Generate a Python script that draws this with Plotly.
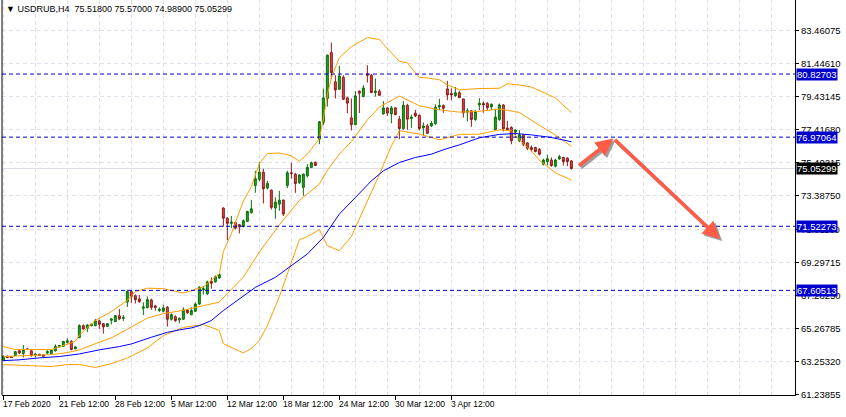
import plotly.graph_objects as go

# ---- H4 candles (bar index 0..142) ----
open_ = [63.34, 63.58, 63.54, 63.62, 63.91, 63.74, 64.03, 63.91, 63.66, 63.70,
         63.66, 63.78, 63.74, 63.91, 64.15, 64.19, 64.43, 64.48, 64.03, 64.72,
         65.45, 65.29, 65.45, 65.45, 65.74, 65.57, 65.41, 65.78, 65.70, 66.06,
         65.90, 66.88, 67.53, 67.28, 67.08, 66.51, 66.55, 67.02, 66.65, 66.37,
         66.33, 66.57, 65.84, 66.00, 65.80, 65.84, 66.41, 66.12, 66.33, 66.77,
         67.63, 67.39, 68.16, 68.12, 68.36, 72.64, 72.02, 71.70, 71.74, 71.62,
         71.50, 71.82, 72.35, 74.02, 74.39, 74.83, 73.86, 73.73, 72.64, 72.88,
         73.12, 74.02, 74.79, 74.71, 74.20, 73.90, 74.61, 75.12, 75.44, 76.85,
         77.87, 79.33, 82.14, 80.35, 79.90, 80.63, 79.37, 78.15, 77.74, 79.78,
         79.45, 80.84, 80.76, 79.70, 79.78, 78.39, 78.76, 78.39, 78.76, 78.07,
         77.50, 78.92, 78.11, 78.44, 78.31, 77.54, 77.66, 77.66, 77.80, 78.82,
         78.90, 79.92, 79.64, 79.51, 79.68, 79.31, 78.50, 78.58, 78.05, 78.94,
         79.03, 79.03, 78.82, 77.44, 78.05, 78.94, 77.52, 77.56, 77.28, 76.75,
         77.09, 76.62, 76.34, 76.34, 76.22, 75.32, 75.48, 75.57, 75.20, 75.65,
         75.73, 75.69, 75.518]
high = [63.62, 63.62, 63.56, 63.91, 63.95, 64.27, 64.05, 63.95, 63.78, 63.72,
        63.68, 63.95, 63.99, 64.31, 64.27, 64.52, 64.68, 64.56, 64.19, 65.53,
        65.53, 65.53, 65.57, 65.86, 65.82, 65.61, 65.61, 65.90, 66.10, 66.47,
        66.10, 67.65, 67.61, 67.36, 67.32, 66.88, 67.24, 67.10, 66.73, 66.57,
        66.73, 66.65, 66.20, 66.08, 65.96, 66.57, 66.45, 66.57, 66.86, 67.87,
        67.87, 68.20, 68.40, 68.52, 68.61, 72.68, 72.07, 72.15, 71.82, 71.66,
        71.94, 72.47, 73.12, 74.91, 75.44, 75.04, 74.30, 73.77, 73.29, 73.69,
        73.16, 74.91, 75.40, 74.79, 74.71, 74.75, 75.32, 75.48, 75.48, 77.95,
        79.94, 82.02, 82.75, 80.76, 81.33, 80.76, 79.45, 79.33, 79.78, 79.82,
        80.14, 81.37, 80.84, 80.55, 79.90, 79.17, 78.80, 78.88, 78.80, 78.27,
        79.17, 79.01, 78.35, 78.64, 78.35, 77.87, 77.78, 77.95, 78.98, 79.31,
        78.98, 80.41, 79.96, 80.04, 79.80, 79.31, 78.74, 78.62, 78.62, 79.35,
        79.15, 79.11, 79.03, 78.70, 79.03, 78.98, 77.97, 77.64, 77.44, 77.40,
        77.15, 76.66, 76.46, 76.38, 76.30, 75.65, 75.89, 75.73, 75.65, 75.89,
        75.77, 75.73, 75.570]
low = [63.29, 63.46, 63.48, 63.60, 63.70, 63.50, 63.97, 63.54, 63.50, 63.60,
       63.56, 63.70, 63.72, 63.86, 64.13, 64.17, 64.35, 63.95, 64.01, 64.68,
       65.21, 65.05, 65.41, 65.41, 65.25, 64.96, 65.37, 65.53, 65.66, 65.78,
       65.74, 66.59, 66.84, 66.80, 66.84, 66.10, 66.51, 66.41, 66.37, 66.29,
       66.25, 65.39, 65.76, 65.68, 65.59, 65.80, 66.16, 66.08, 66.29, 66.73,
       67.34, 67.34, 67.71, 68.08, 68.32, 71.50, 70.68, 71.41, 71.33, 71.09,
       71.46, 71.78, 72.31, 73.57, 74.26, 72.92, 73.77, 72.55, 71.98, 72.47,
       72.15, 73.86, 74.43, 73.57, 74.10, 73.39, 74.51, 75.08, 75.20, 76.54,
       77.70, 78.84, 80.51, 79.33, 79.86, 79.25, 78.44, 77.38, 77.70, 78.44,
       79.41, 80.31, 79.66, 79.45, 79.49, 78.35, 78.27, 77.82, 78.31, 76.85,
       77.42, 77.42, 77.54, 78.19, 77.38, 77.05, 77.17, 77.58, 77.72, 78.62,
       78.46, 79.23, 79.23, 79.43, 79.35, 78.17, 77.93, 77.60, 77.97, 78.62,
       78.46, 78.58, 78.62, 77.40, 77.97, 77.32, 77.36, 76.54, 76.95, 76.66,
       76.42, 76.18, 76.09, 76.05, 75.85, 75.24, 75.24, 75.16, 75.12, 75.57,
       75.24, 75.20, 74.989]
close = [63.58, 63.50, 63.50, 63.86, 63.78, 63.99, 63.99, 63.62, 63.70, 63.62,
         63.58, 63.86, 63.95, 64.19, 64.23, 64.48, 64.52, 63.99, 64.15, 65.45,
         65.25, 65.49, 65.53, 65.74, 65.53, 65.37, 65.57, 65.86, 66.06, 65.86,
         65.94, 67.53, 67.24, 67.04, 66.92, 66.59, 67.04, 66.57, 66.57, 66.45,
         66.53, 65.84, 66.12, 65.76, 65.88, 66.41, 66.25, 66.37, 66.77, 67.79,
         67.71, 68.12, 68.04, 68.44, 68.57, 72.02, 71.70, 71.78, 71.41, 71.50,
         71.86, 72.43, 72.59, 74.43, 74.83, 73.82, 74.14, 72.68, 73.00, 73.12,
         72.27, 74.79, 74.75, 74.14, 74.65, 74.71, 75.12, 75.40, 75.24, 77.91,
         79.37, 81.98, 80.92, 79.86, 80.71, 79.29, 79.05, 77.74, 79.49, 79.66,
         79.98, 80.76, 79.70, 79.78, 79.53, 78.76, 78.44, 78.76, 78.35, 77.50,
         78.92, 78.07, 78.19, 78.27, 77.50, 77.66, 77.21, 77.82, 78.80, 78.90,
         78.74, 79.55, 79.55, 79.68, 79.39, 78.46, 78.58, 78.05, 78.54, 79.03,
         78.94, 78.78, 78.98, 78.20, 78.94, 77.48, 77.44, 76.75, 77.40, 77.11,
         76.54, 76.30, 76.22, 76.09, 75.93, 75.57, 75.65, 75.24, 75.57, 75.77,
         75.48, 75.48, 75.05299]

# ---- indicator lines (bar index, price) ----
bb_upper_idx = [0, 3, 12, 16, 18, 19, 23, 27, 31, 33, 36, 40, 45, 50, 54, 55, 57, 60, 62, 64,
                66, 69, 72, 74, 76, 79, 80, 81, 82, 84, 87, 91, 94, 97, 99, 101, 104, 106, 109,
                111, 114, 119, 124, 126, 129, 132, 134, 138, 142]
bb_upper = [64.17, 63.99, 63.99, 64.29, 64.48, 64.87, 65.76, 66.31, 66.99, 67.53, 67.74, 67.71,
            67.44, 67.81, 68.63, 69.97, 71.07, 73.06, 73.94, 75.35, 75.97, 76.00, 75.83, 75.49,
            75.93, 76.87, 78.09, 79.55, 80.59, 81.83, 82.50, 83.06, 82.94, 82.12, 81.61, 81.51,
            80.62, 80.59, 80.48, 80.17, 79.87, 79.94, 79.96, 80.23, 80.16, 80.04, 79.82, 79.37,
            78.47]
bb_mid_idx = [0, 6, 12, 16, 19, 23, 27, 31, 36, 40, 45, 50, 54, 55, 60, 64, 69, 74, 79, 81, 84,
              87, 91, 94, 99, 104, 109, 114, 119, 124, 129, 134, 138, 142]
bb_mid = [63.56, 63.62, 63.68, 63.80, 63.97, 64.35, 64.70, 65.23, 65.91, 66.18, 66.39, 66.67,
          66.89, 67.16, 68.42, 69.95, 71.61, 73.10, 74.10, 74.95, 75.93, 76.70, 78.03, 78.81,
          79.48, 78.89, 78.64, 78.50, 78.55, 78.69, 78.48, 77.69, 77.11, 76.41]
bb_lower_idx = [0, 6, 12, 16, 19, 23, 27, 31, 36, 40, 45, 50, 54, 55, 57, 60, 62, 64, 66, 69, 72,
                74, 76, 79, 81, 84, 87, 91, 94, 97, 99, 104, 109, 114, 119, 124, 127, 129, 132,
                134, 138, 142]
bb_lower = [63.07, 63.01, 62.95, 63.07, 63.07, 62.89, 63.13, 63.47, 64.08, 64.84, 65.34, 65.52,
            65.16, 64.35, 64.11, 63.78, 64.05, 64.55, 65.45, 67.22, 69.30, 70.70, 70.89, 71.32,
            70.34, 70.03, 70.90, 73.00, 74.68, 76.44, 77.36, 77.16, 76.81, 77.14, 77.15, 77.42,
            77.36, 76.80, 76.14, 75.56, 74.79, 74.35]
ma_idx = [0, 4, 9, 14, 19, 24, 29, 32, 37, 41, 44, 47, 49, 52, 55, 59, 63, 68, 72, 76, 80, 84,
          88, 92, 95, 99, 103, 107, 110, 114, 119, 124, 128, 132, 137, 142]
ma = [63.31, 63.36, 63.48, 63.56, 63.72, 63.97, 64.17, 64.33, 64.74, 65.04, 65.19, 65.31, 65.45,
      65.76, 66.37, 67.08, 67.79, 68.40, 69.11, 69.83, 70.84, 72.27, 73.28, 74.30, 74.91, 75.42,
      75.73, 75.93, 76.20, 76.50, 76.93, 77.14, 77.19, 77.11, 76.95, 76.69]

# ---- axes / annotations ----
date_idx = [0, 14, 28, 42, 56, 70, 84, 98, 112]
date_labels = ["17 Feb 2020", "21 Feb 12:00", "28 Feb 12:00", "5 Mar 12:00", "12 Mar 12:00",
               "18 Mar 12:00", "24 Mar 12:00", "30 Mar 12:00", "3 Apr 12:00"]
grid_idx = list(range(0, 200, 8))
price_ticks = [61.23855, 63.25320, 65.26785, 67.28250, 69.29715, 71.31180, 73.38750,
               75.40215, 77.41680, 79.43145, 81.44610, 83.46075]
levels = [80.82703, 76.97064, 71.52273, 67.60513]
bid = 75.05299
# forecast arrows drawn on the chart: (bar index, price) points
arrow_idx = [143.5, 152.5, 179.2]
arrow_price = [75.16, 76.89, 70.74]

FONT = "Liberation Sans"
ORANGE = "#FF9E00"

fig = go.Figure()

fig.add_shape(type="line", xref="paper", x0=0, x1=1, y0=bid, y1=bid,
              line=dict(color="#DCDCEC", width=1), layer="below")

fig.add_trace(go.Candlestick(
    x=list(range(len(close))), open=open_, high=high, low=low, close=close,
    increasing=dict(line=dict(color="#0B6E0B", width=1), fillcolor="#22A522"),
    decreasing=dict(line=dict(color="#8E1B1B", width=1), fillcolor="#E04444"),
    whiskerwidth=0, hoverinfo="skip",
))
for xs, ys in [(bb_upper_idx, bb_upper), (bb_mid_idx, bb_mid), (bb_lower_idx, bb_lower)]:
    fig.add_trace(go.Scatter(x=xs, y=ys, mode="lines", line=dict(color=ORANGE, width=1),
                             hoverinfo="skip"))
fig.add_trace(go.Scatter(x=ma_idx, y=ma, mode="lines", line=dict(color="#0000FF", width=1),
                         hoverinfo="skip"))

for lv in levels:
    fig.add_shape(type="line", xref="paper", x0=0, x1=1, y0=lv, y1=lv,
                  line=dict(color="#0000C8", width=1, dash="4px,3px"))
    fig.add_annotation(x=1, xref="paper", xanchor="left", xshift=1, y=lv, yanchor="middle",
                       text=f"{lv:.5f}", showarrow=False, bgcolor="#0000CD", borderpad=0,
                       font=dict(family=FONT, size=9.5, color="white"))
fig.add_annotation(x=1, xref="paper", xanchor="left", xshift=1, y=bid, yanchor="middle",
                   text=f"{bid:.5f}", showarrow=False, bgcolor="#000000", borderpad=0,
                   font=dict(family=FONT, size=9.5, color="white"))

# left frame line
fig.add_shape(type="line", xref="paper", yref="paper", x0=0, x1=0, y0=0, y1=1,
              line=dict(color="black", width=1))

for i, lab in zip(date_idx, date_labels):
    fig.add_annotation(x=i, y=0, yref="paper", xanchor="left", yanchor="top", xshift=-2,
                       yshift=-2, text=lab, showarrow=False,
                       font=dict(family=FONT, size=8.5, color="black"))

title = (f"\u25BC USDRUB,H4\u00a0 {open_[-1]:.5f} {high[-1]:.5f} "
         f"{low[-1]:.5f} {close[-1]:.5f}")
fig.add_annotation(x=0, xref="paper", y=1, yref="paper", xanchor="left", yanchor="top",
                   xshift=2, yshift=-2, text=title, showarrow=False,
                   font=dict(family=FONT, size=9, color="black"))

# arrows: shadow first, then the red arrow
for dx, dy, col in [(0.5, -0.12, "rgba(80,80,80,0.55)"), (0, 0, "#FF5B47")]:
    for k in range(len(arrow_idx) - 1):
        fig.add_annotation(x=arrow_idx[k + 1] + dx, y=arrow_price[k + 1] + dy,
                           ax=arrow_idx[k] + dx, ay=arrow_price[k] + dy,
                           xref="x", yref="y", axref="x", ayref="y", text="",
                           showarrow=True, arrowhead=2, arrowsize=1, arrowwidth=3.5,
                           arrowcolor=col)

fig.update_layout(
    width=846, height=417,
    margin=dict(l=2, r=51, t=0, b=22),
    paper_bgcolor="white", plot_bgcolor="white",
    showlegend=False,
    font=dict(family=FONT, size=9.5, color="black"),
    xaxis=dict(
        range=[-0.33, 197.9], rangeslider=dict(visible=False),
        tickvals=date_idx, showticklabels=False, ticks="outside", ticklen=4,
        tickcolor="black", showgrid=False, zeroline=False,
        showline=True, linecolor="black", linewidth=1,
        minor=dict(tickvals=grid_idx, showgrid=True, gridcolor="#DFDFEE",
                   griddash="4px,3px", gridwidth=1, ticks=""),
    ),
    yaxis=dict(
        range=[61.21, 85.354], side="right",
        tickvals=price_ticks, ticktext=[f"{p:.5f}" for p in price_ticks],
        ticks="outside", ticklen=3, tickcolor="black",
        showgrid=True, gridcolor="#DFDFEE", griddash="4px,3px", gridwidth=1,
        zeroline=False, showline=True, linecolor="black", linewidth=1,
        tickfont=dict(family=FONT, size=9.5, color="black"),
    ),
)

# the page's default 8px body margin would shift the chart inside the window
fig.write_html("out.html", config={"displayModeBar": False},
               post_script="document.body.style.margin='0px';")
